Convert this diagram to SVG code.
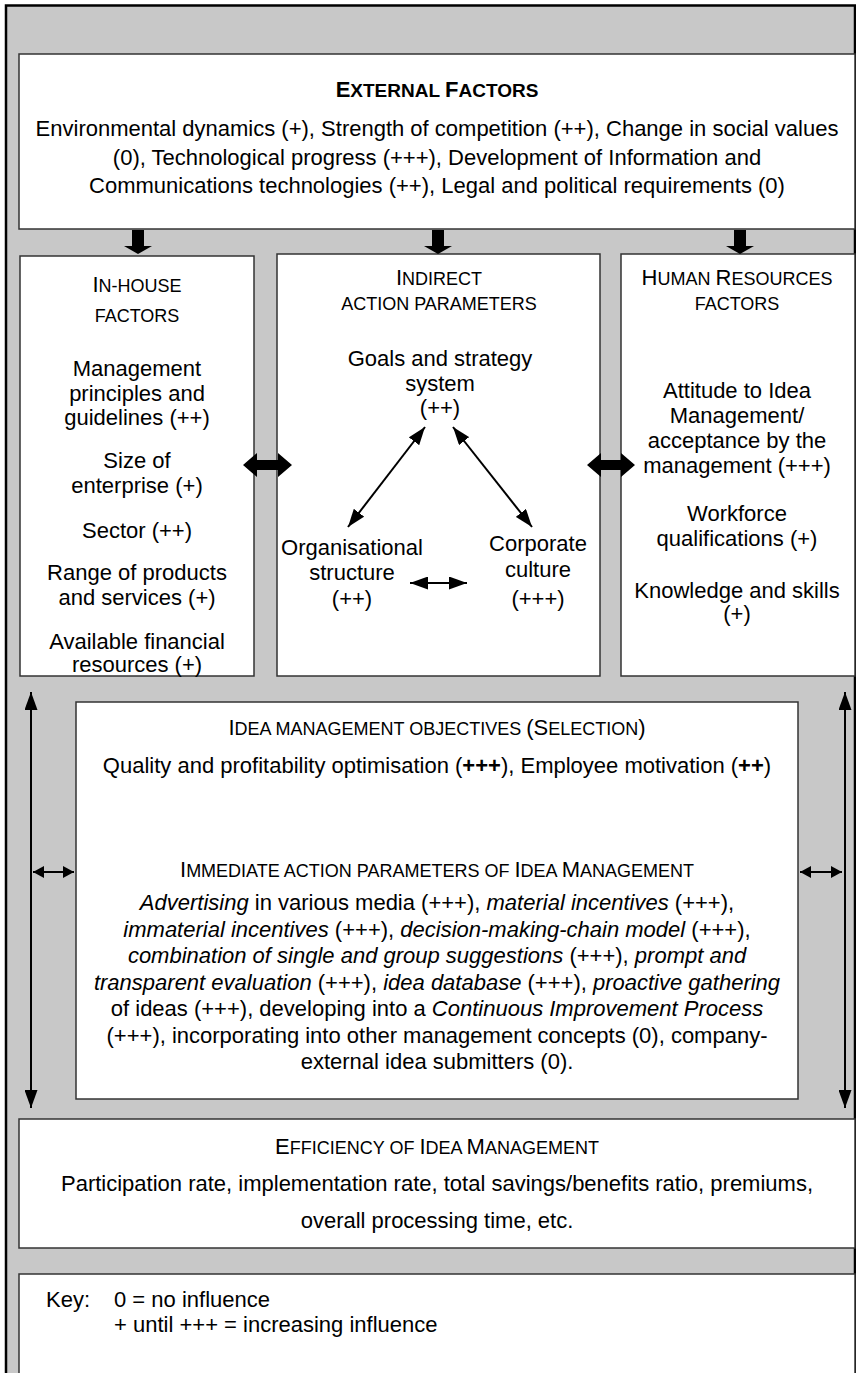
<svg xmlns="http://www.w3.org/2000/svg" width="856" height="1373" viewBox="0 0 856 1373">
<style>
text{font-family:"Liberation Sans",Arial,"DejaVu Sans",sans-serif;font-size:22px;fill:#000}
.c{text-anchor:middle}
.sc{font-size:18px}
.box{fill:#fff;stroke:#333;stroke-width:1.5}
.thin{stroke:#000;stroke-width:2;fill:none}
.blk{fill:#000}
</style>
<defs>
<marker id="ah" viewBox="0 0 18 13" refX="18" refY="6.5" markerWidth="18" markerHeight="13" markerUnits="userSpaceOnUse" orient="auto-start-reverse"><path d="M0,0 L18,6.5 L0,13 z" fill="#000"/></marker>
<marker id="am" viewBox="0 0 18 13" refX="18" refY="6.5" markerWidth="18" markerHeight="13" markerUnits="userSpaceOnUse" orient="auto-start-reverse"><path d="M0,0 L18,6.5 L0,13 z" fill="#000"/></marker>
<marker id="as" viewBox="0 0 11 12" refX="11" refY="6" markerWidth="11" markerHeight="12" markerUnits="userSpaceOnUse" orient="auto-start-reverse"><path d="M0,0 L11,6 L0,12 z" fill="#000"/></marker>
</defs>
<rect x="6" y="5.5" width="849" height="1420" fill="#c8c8c8" stroke="#000" stroke-width="2.5"/>

<g id="external">
<rect class="box" x="19" y="54" width="836" height="175"/>
<text class="c" x="437" y="97" font-weight="bold" font-size="24">E<tspan font-size="19">XTERNAL </tspan>F<tspan font-size="19">ACTORS</tspan></text>
<text class="c" x="437" y="136">Environmental dynamics (+), Strength of competition (++), Change in social values</text>
<text class="c" x="437" y="165">(0), Technological progress (+++), Development of Information and</text>
<text class="c" x="437" y="193">Communications technologies (++), Legal and political requirements (0)</text>
</g>

<g id="inhouse">
<rect class="box" x="20" y="256" width="234" height="420"/>
<text class="c" x="137" y="292">I<tspan class="sc">N-HOUSE</tspan></text>
<text class="c sc" x="137" y="322">FACTORS</text>
<text class="c" x="137" y="376">Management</text>
<text class="c" x="137" y="401">principles and</text>
<text class="c" x="137" y="425">guidelines (++)</text>
<text class="c" x="137" y="468">Size of</text>
<text class="c" x="137" y="493">enterprise (+)</text>
<text class="c" x="137" y="538">Sector (++)</text>
<text class="c" x="137" y="580">Range of products</text>
<text class="c" x="137" y="605">and services (+)</text>
<text class="c" x="137" y="649">Available financial</text>
<text class="c" x="137" y="672">resources (+)</text>
</g>

<g id="indirect">
<rect class="box" x="277" y="254" width="323" height="422"/>
<text class="c" x="439" y="285">I<tspan class="sc">NDIRECT</tspan></text>
<text class="c sc" x="439" y="310">ACTION PARAMETERS</text>
<text class="c" x="440" y="366">Goals and strategy</text>
<text class="c" x="440" y="391">system</text>
<text class="c" x="440" y="415">(++)</text>
<text class="c" x="352" y="555">Organisational</text>
<text class="c" x="352" y="580">structure</text>
<text class="c" x="352" y="606">(++)</text>
<text class="c" x="538" y="551">Corporate</text>
<text class="c" x="538" y="577">culture</text>
<text class="c" x="538" y="606">(+++)</text>
</g>

<g id="humanresources">
<rect class="box" x="621" y="254" width="234" height="422"/>
<text class="c" x="737" y="285">H<tspan class="sc">UMAN </tspan>R<tspan class="sc">ESOURCES</tspan></text>
<text class="c sc" x="737" y="310">FACTORS</text>
<text class="c" x="737" y="398">Attitude to Idea</text>
<text class="c" x="737" y="423">Management/</text>
<text class="c" x="737" y="448">acceptance by the</text>
<text class="c" x="737" y="473">management (+++)</text>
<text class="c" x="737" y="521">Workforce</text>
<text class="c" x="737" y="546">qualifications (+)</text>
<text class="c" x="737" y="598">Knowledge and skills</text>
<text class="c" x="737" y="621">(+)</text>
</g>

<g id="objectives">
<rect class="box" x="76" y="702" width="722" height="397"/>
<text class="c" x="437" y="735">I<tspan class="sc">DEA MANAGEMENT OBJECTIVES </tspan>(S<tspan class="sc">ELECTION</tspan>)</text>
<text class="c" x="437" y="773">Quality and profitability optimisation (<tspan font-weight="bold">+++</tspan>), Employee motivation (<tspan font-weight="bold">++</tspan>)</text>
<text class="c" x="437" y="877">I<tspan class="sc">MMEDIATE ACTION PARAMETERS OF </tspan>I<tspan class="sc">DEA </tspan>M<tspan class="sc">ANAGEMENT</tspan></text>
<text class="c" x="437" y="910"><tspan font-style="italic">Advertising</tspan> in various media (+++), <tspan font-style="italic">material incentives</tspan> (+++),</text>
<text class="c" x="437" y="936.5"><tspan font-style="italic">immaterial incentives</tspan> (+++), <tspan font-style="italic">decision-making-chain model</tspan> (+++),</text>
<text class="c" x="437" y="963"><tspan font-style="italic">combination of single and group suggestions</tspan> (+++), <tspan font-style="italic">prompt and</tspan></text>
<text class="c" x="437" y="989.5"><tspan font-style="italic">transparent evaluation</tspan> (+++), <tspan font-style="italic">idea database</tspan> (+++), <tspan font-style="italic">proactive gathering</tspan></text>
<text class="c" x="437" y="1016">of ideas (+++), developing into a <tspan font-style="italic">Continuous Improvement Process</tspan></text>
<text class="c" x="437" y="1042.5">(+++), incorporating into other management concepts (0), company-</text>
<text class="c" x="437" y="1069">external idea submitters (0).</text>
</g>

<g id="efficiency">
<rect class="box" x="19" y="1119" width="836" height="129"/>
<text class="c" x="437" y="1154">E<tspan class="sc">FFICIENCY OF </tspan>I<tspan class="sc">DEA </tspan>M<tspan class="sc">ANAGEMENT</tspan></text>
<text class="c" x="437" y="1191">Participation rate, implementation rate, total savings/benefits ratio, premiums,</text>
<text class="c" x="437" y="1228">overall processing time, etc.</text>
</g>

<g id="key">
<rect class="box" x="19" y="1274" width="836" height="140"/>
<text x="46" y="1307">Key:</text>
<text x="114" y="1307">0 = no influence</text>
<text x="114" y="1332">+ until +++ = increasing influence</text>
</g>

<g id="connectors">
<polygon class="blk" points="132,230 144,230 144,246 152,246 138,254 124,246 132,246"/>
<polygon class="blk" points="432,230 444,230 444,246 452,246 438,254 424,246 432,246"/>
<polygon class="blk" points="734,230 746,230 746,246 754,246 740,254 726,246 734,246"/>
<polygon class="blk" points="243,465 257,453 257,460 278,460 278,453 292,465 278,477 278,470 257,470 257,477"/>
<polygon class="blk" points="587,465 601,453 601,460 621,460 621,453 635,465 621,477 621,470 601,470 601,477"/>
<line class="thin" x1="425" y1="427" x2="348" y2="527" marker-start="url(#am)" marker-end="url(#am)"/>
<line class="thin" x1="453" y1="427" x2="532" y2="527" marker-start="url(#am)" marker-end="url(#am)"/>
<line class="thin" x1="410" y1="583" x2="467" y2="583" stroke-width="2.5" marker-start="url(#am)" marker-end="url(#am)"/>
<line class="thin" x1="31" y1="692" x2="31" y2="1108" marker-start="url(#ah)" marker-end="url(#ah)"/>
<line class="thin" x1="845" y1="692" x2="845" y2="1108" marker-start="url(#ah)" marker-end="url(#ah)"/>
<line class="thin" x1="33" y1="872" x2="74" y2="872" stroke-width="3" marker-start="url(#as)" marker-end="url(#as)"/>
<line class="thin" x1="800" y1="872" x2="842" y2="872" stroke-width="3" marker-start="url(#as)" marker-end="url(#as)"/>
</g>
</svg>
